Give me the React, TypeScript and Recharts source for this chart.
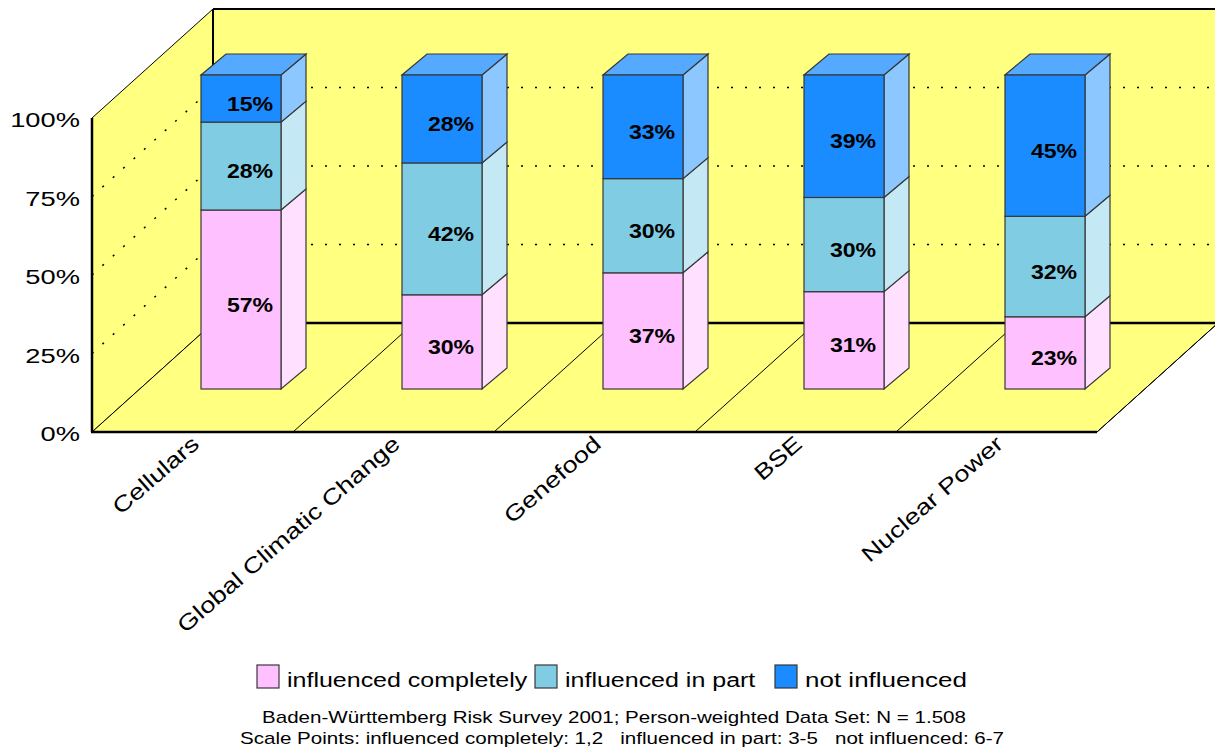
import { BarChart, Bar, XAxis, YAxis } from "recharts";

// Share of respondents per risk topic (percent)
const categories = ["Cellulars", "Global Climatic Change", "Genefood", "BSE", "Nuclear Power"];
const influencedCompletely = [57, 30, 37, 31, 23];
const influencedInPart = [28, 42, 30, 30, 32];
const notInfluenced = [15, 28, 33, 39, 45];
const yTicks = [0, 25, 50, 75, 100];

const footnoteLines = [
  "Baden-Württemberg Risk Survey 2001; Person-weighted Data Set: N = 1.508",
  "Scale Points: influenced completely: 1,2   influenced in part: 3-5   not influenced: 6-7",
];

const data = categories.map((name, i) => ({
  name,
  completely: influencedCompletely[i],
  part: influencedInPart[i],
  not: notInfluenced[i],
}));

const series = [
  { key: "completely", name: "influenced completely", front: "#FFC0FF", side: "#FFE0FF", top: "#FFD4FF" },
  { key: "part", name: "influenced in part", front: "#80CCE3", side: "#C4E8F4", top: "#A6DCEE" },
  { key: "not", name: "not influenced", front: "#1A8CFF", side: "#8CC8FF", top: "#55AAFF" },
];

const W = 1215;
const H = 751;
const FONT = "'Liberation Sans', Arial, sans-serif";

// front plane of the plot box
const PLOT = { left: 92, top: 118, right: 1097, bottom: 432 };
const X_AXIS_H = 30;
// depth of the floor / walls, of the bar placement and of the bar itself
const DEPTH = { dx: 121, dy: -109 };
const BAR_SHIFT = { dx: 48, dy: -43 };
const BAR_DEPTH = { dx: 25, dy: -21 };

const frontY = (v: number) => PLOT.bottom - ((PLOT.bottom - PLOT.top) * v) / 100;

function Box3D(props: any) {
  const { x, y, width, height, payload, s, isTop } = props;
  if (height == null || width == null) return null;
  const fx = x + BAR_SHIFT.dx;
  const fy = y + BAR_SHIFT.dy;
  const { dx, dy } = BAR_DEPTH;
  const stroke = "#383838";
  const value = payload[s.key];
  return (
    <g>
      <polygon
        points={`${fx + width},${fy} ${fx + width + dx},${fy + dy} ${fx + width + dx},${fy + dy + height} ${fx + width},${fy + height}`}
        fill={s.side}
        stroke={stroke}
        strokeWidth={1.2}
      />
      {isTop && (
        <polygon
          points={`${fx},${fy} ${fx + width},${fy} ${fx + width + dx},${fy + dy} ${fx + dx},${fy + dy}`}
          fill={s.top}
          stroke={stroke}
          strokeWidth={1.2}
        />
      )}
      <rect x={fx} y={fy} width={width} height={height} fill={s.front} stroke={stroke} strokeWidth={1.2} />
      <text
        transform={`translate(${fx + width / 2 + 9},${fy + height / 2 + 12}) scale(1.1,1)`}
        textAnchor="middle"
        fontFamily={FONT}
        fontWeight="bold"
        fontSize={21}
        fill="#000"
      >
        {value}%
      </text>
    </g>
  );
}

const YTick = ({ y, payload }: any) => (
  <text
    transform={`translate(${PLOT.left - 12},${y + 9}) scale(1.3,1)`}
    textAnchor="end"
    fontFamily={FONT}
    fontSize={21}
    fill="#000"
  >
    {payload.value}%
  </text>
);

const XTick = ({ x, payload }: any) => (
  <text
    transform={`translate(${x + 8},${PLOT.bottom + 14}) rotate(-41) scale(1.24,1)`}
    textAnchor="end"
    fontFamily={FONT}
    fontSize={22}
    fill="#000"
  >
    {payload.value}
  </text>
);

// walls, floor, gridlines, legend and source note
function Backdrop() {
  const bx = PLOT.left + DEPTH.dx;
  const topBack = PLOT.top + DEPTH.dy;
  const bottomBack = PLOT.bottom + DEPTH.dy;
  const band = (PLOT.right - PLOT.left) / categories.length;
  const yellow = "#FFFF80";
  const legendX = [257, 535, 775];
  const noteX = [614, 622];
  return (
    <svg width={W} height={H} style={{ position: "absolute", left: 0, top: 0 }}>
      <rect x={bx} y={topBack} width={W - bx + 10} height={bottomBack - topBack} fill={yellow} />
      <polygon
        points={`${PLOT.left},${PLOT.top} ${bx},${topBack} ${bx},${bottomBack} ${PLOT.left},${PLOT.bottom}`}
        fill={yellow}
        stroke="#000"
        strokeWidth={1}
      />
      <polygon
        points={`${PLOT.left},${PLOT.bottom} ${PLOT.right},${PLOT.bottom} ${PLOT.right + DEPTH.dx},${bottomBack} ${bx},${bottomBack}`}
        fill={yellow}
        stroke="#000"
        strokeWidth={1}
      />
      {/* dotted gridlines on the left and back walls */}
      {yTicks
        .filter((v) => v > 0 && v < 100)
        .map((v) => (
          <g key={v} stroke="#000" strokeWidth={1.5} strokeDasharray="2 12">
            <line x1={PLOT.left} y1={frontY(v)} x2={bx} y2={frontY(v) + DEPTH.dy} />
            <line x1={bx} y1={frontY(v) + DEPTH.dy} x2={W} y2={frontY(v) + DEPTH.dy} />
          </g>
        ))}
      {/* category dividers on the floor */}
      {categories.map((_, i) => (
        <line
          key={i}
          x1={PLOT.left + band * (i + 1)}
          y1={PLOT.bottom}
          x2={PLOT.left + band * (i + 1) + DEPTH.dx}
          y2={bottomBack}
          stroke="#000"
          strokeWidth={1}
        />
      ))}
      <line x1={bx} y1={bottomBack} x2={W} y2={bottomBack} stroke="#000" strokeWidth={2.5} />
      <line x1={bx} y1={topBack} x2={bx} y2={bottomBack} stroke="#000" strokeWidth={2} />
      <line x1={bx} y1={topBack} x2={W} y2={topBack} stroke="#000" strokeWidth={2} />
      <line x1={PLOT.left} y1={PLOT.top} x2={PLOT.left} y2={PLOT.bottom} stroke="#000" strokeWidth={2.5} />
      <line x1={PLOT.left - 1} y1={PLOT.bottom} x2={PLOT.right} y2={PLOT.bottom} stroke="#000" strokeWidth={2.5} />

      {series.map((s, i) => (
        <g key={s.key}>
          <rect x={legendX[i]} y={665} width={22} height={23} fill={s.front} stroke="#383838" strokeWidth={1.2} />
          <text
            transform={`translate(${legendX[i] + 30},${687}) scale(${i === 2 ? 1.3 : 1.25},1)`}
            fontFamily={FONT}
            fontSize={20}
            fill="#000"
          >
            {s.name}
          </text>
        </g>
      ))}
      {footnoteLines.map((t, i) => (
        <text
          key={i}
          transform={`translate(${noteX[i]},${723 + i * 21}) scale(1.285,1)`}
          textAnchor="middle"
          fontFamily={FONT}
          fontSize={16}
          fill="#000"
          style={{ whiteSpace: "pre" }}
        >
          {t}
        </text>
      ))}
    </svg>
  );
}

export default function App() {
  return (
    <div style={{ position: "absolute", left: 0, top: 0, width: W, height: H, background: "#fff" }}>
      <Backdrop />
      <div style={{ position: "absolute", left: 0, top: 0 }}>
        <BarChart
          width={W}
          height={H}
          data={data}
          barSize={80}
          margin={{ top: PLOT.top, right: W - PLOT.right, left: 0, bottom: H - PLOT.bottom - X_AXIS_H }}
        >
          <XAxis dataKey="name" height={X_AXIS_H} axisLine={false} tickLine={false} tick={<XTick />} interval={0} />
          <YAxis
            width={PLOT.left}
            domain={[0, 100]}
            ticks={yTicks}
            axisLine={false}
            tickLine={false}
            tick={<YTick />}
            interval={0}
          />
          {series.map((s, i) => (
            <Bar
              key={s.key}
              dataKey={s.key}
              name={s.name}
              stackId="a"
              isAnimationActive={false}
              shape={(p: any) => <Box3D {...p} s={s} isTop={i === series.length - 1} />}
            />
          ))}
        </BarChart>
      </div>
    </div>
  );
}
